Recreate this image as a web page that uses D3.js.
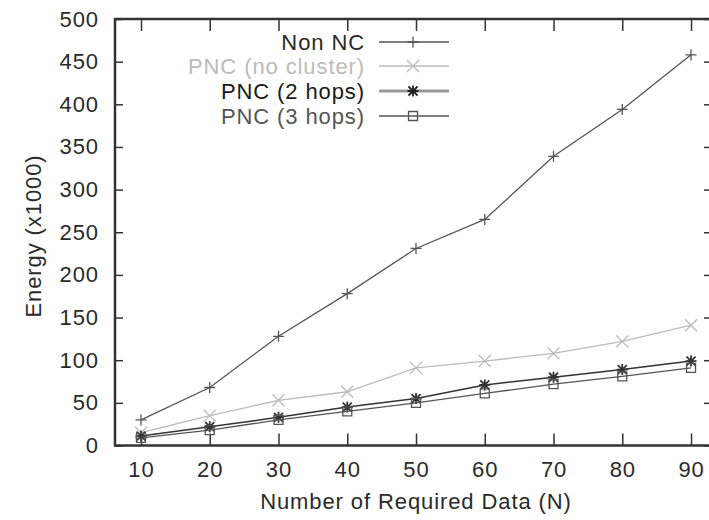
<!DOCTYPE html>
<html><head><meta charset="utf-8">
<script src="https://cdn.jsdelivr.net/npm/d3@7/dist/d3.min.js"></script>
<style>body{margin:0;background:#fff}svg{display:block}text{font-family:"Liberation Sans",Arial,sans-serif}</style>
</head><body><svg id="c" width="709" height="520"></svg>
<script>
const categories = [10,20,30,40,50,60,70,80,90];
const nonNC      = [30,68,128,178,231,265,339,394,458];
const pncNoClust = [15,35,53,63,91,99,108,122,141];
const pnc2hops   = [11,22,33,45,55,71,80,89,99];
const pnc3hops   = [9,18,30,40,50,61,72,81,91];
const yTicks = [0,50,100,150,200,250,300,350,400,450,500];
const seriesNames = ["Non NC","PNC (no cluster)","PNC (2 hops)","PNC (3 hops)"];

const series = [
  {name:seriesNames[0], values:nonNC, color:"#555", text:"#2a2a2a", marker:"plus", lw:1.3, legendLw:1.3},
  {name:seriesNames[1], values:pncNoClust, color:"#bbb", text:"#bbb", marker:"cross", lw:1.3, legendLw:1.3},
  {name:seriesNames[2], values:pnc2hops, color:"#333", text:"#1a1a1a", marker:"star", lw:1.5, legendLw:3, legendColor:"#999"},
  {name:seriesNames[3], values:pnc3hops, color:"#555", text:"#555", marker:"square", lw:1.3, legendLw:1.3}
];

const FS = 22, LS = 0.9;
const svg = d3.select("#c");
const L=115, R=712, T=19, B=445.5;
const x = d3.scaleLinear().domain([6.22,93.05]).range([L,R]);
const y = d3.scaleLinear().domain([0,500]).range([B,T]);

function drawMarker(g, type, cx, cy, color){
  const s=5.5;
  const p = d3.path();
  if(type==="plus"||type==="star"){
    p.moveTo(cx-s,cy);p.lineTo(cx+s,cy);p.moveTo(cx,cy-s);p.lineTo(cx,cy+s);
  }
  if(type==="cross"||type==="star"){
    const t = type==="cross"?6:4.5;
    p.moveTo(cx-t,cy-t);p.lineTo(cx+t,cy+t);p.moveTo(cx-t,cy+t);p.lineTo(cx+t,cy-t);
  }
  if(type==="square"){
    p.rect(cx-4.5,cy-4.5,9,9);
  }
  g.append("path").attr("d",p.toString()).attr("fill","none").attr("stroke",color).attr("stroke-width",type==="star"?1.8:1.3);
}

const xAxisB = d3.axisBottom(x).tickValues(categories).tickSize(-12).tickSizeOuter(0).tickPadding(16);
const xAxisT = d3.axisTop(x).tickValues(categories).tickSize(-12).tickSizeOuter(0).tickFormat("");
const yAxisL = d3.axisLeft(y).tickValues(yTicks).tickSize(-8).tickSizeOuter(0).tickPadding(16);
const yAxisR = d3.axisRight(y).tickValues(yTicks).tickSize(-8).tickSizeOuter(0).tickFormat("");

function styleAxis(g){
  g.select(".domain").remove();
  g.selectAll(".tick line").attr("stroke","#333").attr("stroke-width",1.5);
  g.selectAll(".tick text").attr("fill","#2a2a2a").attr("font-size",FS).attr("letter-spacing",LS)
    .attr("font-family",'"Liberation Sans",Arial,sans-serif');
}
svg.append("g").attr("transform",`translate(0,${B})`).call(xAxisB).call(styleAxis);
svg.append("g").attr("transform",`translate(0,${T})`).call(xAxisT).call(styleAxis);
svg.append("g").attr("transform",`translate(${L},0)`).call(yAxisL).call(styleAxis);
svg.append("g").attr("transform",`translate(${R},0)`).call(yAxisR).call(styleAxis);

svg.append("rect").attr("x",L).attr("y",T).attr("width",R-L).attr("height",B-T)
  .attr("fill","none").attr("stroke","#333").attr("stroke-width",2.5);

const line = d3.line().x((d,i)=>x(categories[i])).y(d=>y(d));
series.forEach(s=>{
  const g = svg.append("g");
  g.append("path").attr("d",line(s.values)).attr("fill","none").attr("stroke",s.color).attr("stroke-width",s.lw);
  s.values.forEach((v,i)=>drawMarker(g,s.marker,x(categories[i]),y(v),s.color));
});

const legY = [42,66,91,116];
series.forEach((s,i)=>{
  const g = svg.append("g");
  g.append("text").attr("x",365).attr("y",legY[i]).attr("dy","0.35em").attr("text-anchor","end")
    .attr("font-size",FS).attr("letter-spacing",LS).attr("fill",s.text).text(s.name);
  g.append("line").attr("x1",379).attr("x2",449).attr("y1",legY[i]).attr("y2",legY[i])
    .attr("stroke",s.legendColor||s.color).attr("stroke-width",s.legendLw);
  drawMarker(g,s.marker,413,legY[i],s.marker==="star"?"#222":s.color);
});

svg.append("text").attr("x",416).attr("y",501).attr("dy","0.35em").attr("text-anchor","middle")
  .attr("font-size",FS).attr("letter-spacing",LS).attr("fill","#2a2a2a").text("Number of Required Data (N)");
svg.append("text").attr("transform","translate(33,236) rotate(-90)").attr("dy","0.35em").attr("text-anchor","middle")
  .attr("font-size",FS).attr("letter-spacing",LS).attr("fill","#2a2a2a").text("Energy (x1000)");
</script></body></html>
